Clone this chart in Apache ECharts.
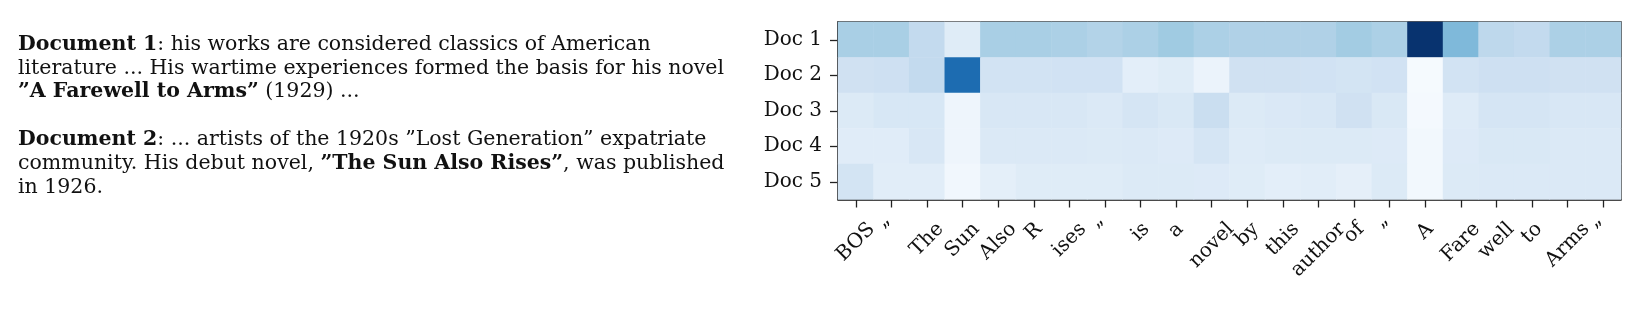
<!DOCTYPE html>
<html><head><meta charset="utf-8">
<script src="https://cdn.jsdelivr.net/npm/echarts@6/dist/echarts.min.js"></script>
<style>html,body{margin:0;padding:0;background:#fff}#c{width:1648px;height:316px}</style>
</head><body><div id="c"></div>
<script>
const tokens = ['BOS','”','The','Sun','Also','R','ises','”','is','a','novel','by','this','author','of','”','A','Fare','well','to','Arms','”'];
const docs = ['Doc 1','Doc 2','Doc 3','Doc 4','Doc 5'];
const doc1 = [0.34,0.34,0.26,0.12,0.34,0.34,0.33,0.31,0.33,0.37,0.33,0.32,0.32,0.32,0.36,0.33,0.99,0.45,0.275,0.26,0.33,0.33];
const doc2 = [0.20,0.21,0.26,0.77,0.19,0.19,0.195,0.195,0.10,0.12,0.06,0.20,0.20,0.195,0.18,0.195,0.01,0.19,0.21,0.21,0.20,0.20];
const doc3 = [0.135,0.16,0.16,0.045,0.155,0.155,0.155,0.14,0.17,0.15,0.23,0.135,0.145,0.155,0.20,0.15,0.015,0.125,0.17,0.17,0.155,0.155];
const doc4 = [0.115,0.115,0.155,0.045,0.14,0.14,0.14,0.135,0.14,0.13,0.17,0.125,0.135,0.135,0.135,0.13,0.025,0.13,0.15,0.15,0.14,0.14];
const doc5 = [0.18,0.11,0.11,0.03,0.095,0.12,0.12,0.12,0.135,0.135,0.13,0.12,0.10,0.11,0.09,0.135,0.025,0.135,0.14,0.14,0.14,0.14];
const rows = [doc1, doc2, doc3, doc4, doc5];
const textLines = [
  '{b|Document 1}: his works are considered classics of American',
  'literature ... His wartime experiences formed the basis for his novel',
  '{b|”A Farewell to Arms”} (1929) ...',
  '{b|Document 2}: ... artists of the 1920s ”Lost Generation” expatriate',
  'community. His debut novel, {b|”The Sun Also Rises”}, was published',
  'in 1926.'
];
const blues = ['#f7fbff','#deebf7','#c6dbef','#9ecae1','#6baed6','#4292c6','#2171b5','#08519c','#08306b'];

const FONT = 'DejaVu Serif';
const TXT = 20.5, YL = 20, XL = 20;
const baselines = [49, 72.5, 96, 144, 168, 192];

const data = [];
rows.forEach((r, y) => r.forEach((v, x) => data.push([x, y, v])));

const cv = document.createElement('canvas').getContext('2d');
cv.font = XL + 'px "' + FONT + '"';
const rich = {};
tokens.forEach((t, i) => {
  const w = cv.measureText(t).width;
  const p = (w + XL) / 2;
  rich['t' + i] = { fontFamily: FONT, fontSize: XL, color: '#111', padding: [p, p, 0, 0] };
});

const chart = echarts.init(document.getElementById('c'), null, {renderer: 'canvas'});
chart.setOption({
  animation: false,
  backgroundColor: '#fff',
  grid: { left: 838, right: 27, top: 22, bottom: 116.5, show: true, borderColor: '#222', borderWidth: 1.5, backgroundColor: 'transparent', outerBoundsMode: 'none', containLabel: false },
  xAxis: {
    type: 'category', data: tokens,
    axisLine: { show: true, lineStyle: { color: '#222', width: 1.5 } },
    axisTick: { show: true, alignWithLabel: true, length: 8, lineStyle: { color: '#222', width: 1.3 } },
    axisLabel: {
      interval: 0, rotate: 45, margin: 19.5, align: 'center', verticalAlign: 'middle',
      fontFamily: FONT, fontSize: XL, color: '#111',
      formatter: (v, i) => '{t' + i + '|' + v + '}',
      rich: rich
    },
    splitLine: { show: false }
  },
  yAxis: {
    type: 'category', data: docs, inverse: true,
    axisLine: { show: true, lineStyle: { color: '#222', width: 1.5 } },
    axisTick: { show: true, alignWithLabel: true, length: 8, lineStyle: { color: '#222', width: 1.3 } },
    axisLabel: { margin: 16, fontFamily: FONT, fontSize: YL, color: '#111' },
    splitLine: { show: false }
  },
  visualMap: { show: false, type: 'continuous', min: 0, max: 1, dimension: 2, inRange: { color: blues } },
  series: [{ type: 'heatmap', data: data, itemStyle: { borderWidth: 0 }, emphasis: { disabled: true } }],
  graphic: textLines.map((t, i) => ({
    type: 'text', left: 18, top: baselines[i] - 0.72 * TXT,
    style: {
      text: t, fontFamily: FONT, fontSize: TXT, fill: '#111', lineHeight: TXT,
      rich: { b: { fontFamily: FONT, fontSize: TXT, fontWeight: 'bold', fill: '#111', lineHeight: TXT } }
    }
  }))
});
</script></body></html>
